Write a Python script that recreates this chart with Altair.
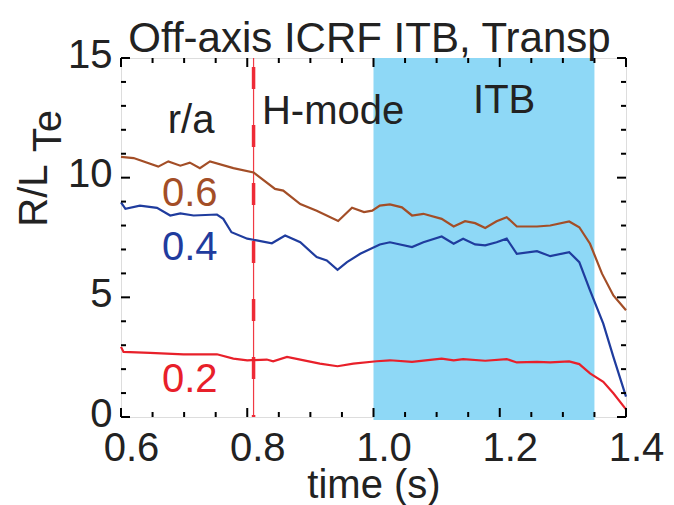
import altair as alt
import pandas as pd

# ---- data ----
t_06 = [0.600, 0.620, 0.659, 0.675, 0.694, 0.709, 0.725, 0.741, 0.778, 0.810, 0.844, 0.857,
        0.884, 0.910, 0.944, 0.966, 0.985, 0.998, 1.010, 1.026, 1.045, 1.061, 1.079, 1.108,
        1.127, 1.145, 1.161, 1.177, 1.195, 1.211, 1.227, 1.259, 1.280, 1.310, 1.326, 1.343,
        1.362, 1.380, 1.400]
v_06 = [10.87, 10.82, 10.46, 10.68, 10.50, 10.63, 10.40, 10.68, 10.40, 10.22, 9.53, 9.46,
        8.90, 8.62, 8.19, 8.74, 8.56, 8.62, 8.83, 8.88, 8.76, 8.42, 8.49, 8.28,
        7.96, 8.18, 8.10, 7.90, 8.18, 8.35, 7.96, 7.96, 8.00, 8.17, 7.93, 7.24,
        5.99, 5.08, 4.46]

t_04 = [0.600, 0.607, 0.630, 0.657, 0.678, 0.694, 0.715, 0.752, 0.762, 0.775, 0.800, 0.815,
        0.839, 0.860, 0.884, 0.910, 0.926, 0.943, 0.958, 0.979, 1.010, 1.026, 1.061, 1.079,
        1.108, 1.127, 1.142, 1.161, 1.177, 1.195, 1.211, 1.227, 1.259, 1.280, 1.310, 1.326,
        1.343, 1.364, 1.380, 1.400]
v_04 = [8.97, 8.70, 8.83, 8.74, 8.42, 8.51, 8.42, 8.46, 8.28, 7.72, 7.45, 7.38,
        7.26, 7.58, 7.30, 6.68, 6.54, 6.15, 6.47, 6.82, 7.21, 7.30, 7.10, 7.30,
        7.54, 7.24, 7.45, 7.21, 7.17, 7.30, 7.45, 6.82, 6.93, 6.72, 6.89, 6.47,
        5.29, 3.90, 2.51, 0.85]

t_02 = [0.600, 0.604, 0.646, 0.699, 0.752, 0.778, 0.800, 0.831, 0.841, 0.863, 0.884, 0.915,
        0.943, 0.968, 1.005, 1.026, 1.061, 1.108, 1.127, 1.142, 1.177, 1.211, 1.227, 1.259,
        1.280, 1.310, 1.326, 1.343, 1.364, 1.380, 1.400]
v_02 = [2.93, 2.72, 2.68, 2.62, 2.62, 2.44, 2.37, 2.40, 2.33, 2.51, 2.40, 2.23,
        2.12, 2.23, 2.33, 2.37, 2.30, 2.44, 2.37, 2.42, 2.35, 2.42, 2.28, 2.30,
        2.28, 2.32, 2.21, 1.82, 1.47, 0.99, 0.32]

series_names = ["0.6", "0.4", "0.2"]
series_colors = ["#A34E27", "#1F3C9E", "#E8202A"]

itb_start = [1.0]
itb_end = [1.35]
hmode_time = [0.81]

x_major = [0.6, 0.8, 1.0, 1.2, 1.4]
x_minor = [0.65, 0.7, 0.75, 0.85, 0.9, 0.95, 1.05, 1.1, 1.15, 1.25, 1.3, 1.35]
y_major = [0, 5, 10, 15]
y_minor = [1, 2, 3, 4, 6, 7, 8, 9, 11, 12, 13, 14]

title_text = "Off-axis ICRF ITB, Transp"

ann_text = ["r/a", "H-mode", "ITB", "0.6", "0.4", "0.2"]
ann_t = [0.711, 0.936, 1.207, 0.709, 0.709, 0.709]
ann_v = [12.35, 12.75, 13.2, 9.3, 7.05, 1.55]
ann_color = ["#222222", "#222222", "#222222"] + series_colors

# ---- tables ----
lines = pd.concat([
    pd.DataFrame({"t": t_06, "v": v_06, "r": "0.6"}),
    pd.DataFrame({"t": t_04, "v": v_04, "r": "0.4"}),
    pd.DataFrame({"t": t_02, "v": v_02, "r": "0.2"}),
])
shade = pd.DataFrame({"a": itb_start, "b": itb_end})
hm = pd.DataFrame({"t": hmode_time})
ann = pd.DataFrame({"txt": ann_text, "t": ann_t, "v": ann_v, "c": ann_color})
xmaj = pd.DataFrame({"t": x_major})
xmin = pd.DataFrame({"t": x_minor})
ymaj = pd.DataFrame({"v": y_major})
ymin = pd.DataFrame({"v": y_minor})

W, H = 505, 359
FONT = "Liberation Sans"
TXT = "#222222"

xs = alt.Scale(domain=[0.6, 1.4], nice=False, zero=False)
ys = alt.Scale(domain=[0, 15], nice=False, zero=False)

x_axis = alt.Axis(values=x_major, format=".1f", grid=False, ticks=False, domain=False,
                  labelFontSize=40, labelFont=FONT, labelColor=TXT, labelPadding=11,
                  labelOffset=10, labelFlush=False, labelOverlap=False,
                  title="time (s)", titleFontSize=40, titleFont=FONT, titleColor=TXT,
                  titleFontWeight="normal", titleY=80, titleBaseline="alphabetic")
y_axis = alt.Axis(values=y_major, format="d", grid=False, ticks=False, domain=False,
                  labelFontSize=40, labelFont=FONT, labelColor=TXT, labelPadding=9,
                  labelOffset=-3, labelFlush=False, labelOverlap=False,
                  title="R/L", titleFontSize=40, titleFont=FONT, titleColor=TXT,
                  titleFontWeight="normal", titleAngle=270, titleX=-87, titleY=137,
                  titleAlign="center", titleBaseline="middle")

rect = alt.Chart(shade).mark_rect(color="#8ED8F6").encode(
    x=alt.X("a:Q", scale=xs, axis=x_axis),
    x2="b:Q",
    y=alt.value(0), y2=alt.value(H + 3),
)

hm_thin = alt.Chart(hm).mark_rule(color="#F03A44", strokeWidth=1.2).encode(
    x=alt.X("t:Q", scale=xs))
hm_dash = alt.Chart(hm).mark_rule(color="#EE2A36", strokeWidth=3.5,
                                  strokeDash=[22, 36], strokeDashOffset=49).encode(
    x=alt.X("t:Q", scale=xs))

line = alt.Chart(lines).mark_line(strokeWidth=2.2).encode(
    x=alt.X("t:Q", scale=xs),
    y=alt.Y("v:Q", scale=ys, axis=y_axis),
    color=alt.Color("r:N", scale=alt.Scale(domain=series_names, range=series_colors), legend=None),
    detail="r:N",
)

text = alt.Chart(ann).mark_text(font=FONT, fontSize=40, align="center", baseline="middle").encode(
    x=alt.X("t:Q", scale=xs), y=alt.Y("v:Q", scale=ys), text="txt:N",
    color=alt.Color("c:N", scale=None),
)

te = alt.Chart(pd.DataFrame({"s": ["Te"]})).mark_text(
    font=FONT, fontSize=40, angle=270, align="center", baseline="middle", color=TXT
).encode(x=alt.value(-72), y=alt.value(73), text="s:N")

title = alt.Chart(pd.DataFrame({"s": [title_text]})).mark_text(
    font=FONT, fontSize=42, align="center", baseline="alphabetic", color=TXT
).encode(x=alt.value(W / 2 - 4), y=alt.value(-6), text="s:N")

TK = dict(color="black", strokeWidth=2)
tb_maj = alt.Chart(xmaj).mark_rule(**TK).encode(x=alt.X("t:Q", scale=xs), y=alt.value(H), y2=alt.value(H - 9))
tb_min = alt.Chart(xmin).mark_rule(**TK).encode(x=alt.X("t:Q", scale=xs), y=alt.value(H), y2=alt.value(H - 5))
tt_maj = alt.Chart(xmaj).mark_rule(**TK).encode(x=alt.X("t:Q", scale=xs), y=alt.value(0), y2=alt.value(9))
tt_min = alt.Chart(xmin).mark_rule(**TK).encode(x=alt.X("t:Q", scale=xs), y=alt.value(0), y2=alt.value(5))
tl_maj = alt.Chart(ymaj).mark_rule(**TK).encode(y=alt.Y("v:Q", scale=ys), x=alt.value(0), x2=alt.value(9))
tl_min = alt.Chart(ymin).mark_rule(**TK).encode(y=alt.Y("v:Q", scale=ys), x=alt.value(0), x2=alt.value(5))
tr_maj = alt.Chart(ymaj).mark_rule(**TK).encode(y=alt.Y("v:Q", scale=ys), x=alt.value(W), x2=alt.value(W - 9))
tr_min = alt.Chart(ymin).mark_rule(**TK).encode(y=alt.Y("v:Q", scale=ys), x=alt.value(W), x2=alt.value(W - 5))

chart = alt.layer(
    rect, hm_thin, hm_dash, line, text, te, title,
    tb_maj, tb_min, tt_maj, tt_min, tl_maj, tl_min, tr_maj, tr_min,
).properties(
    width=W, height=H,
    autosize=alt.AutoSizeParams(type="none"),
    padding={"left": 121, "top": 58, "right": 48, "bottom": 88},
).configure_view(stroke="black", strokeWidth=2.5).configure(background="white")

chart.save("out.html", embed_options={"renderer": "svg", "actions": False})
